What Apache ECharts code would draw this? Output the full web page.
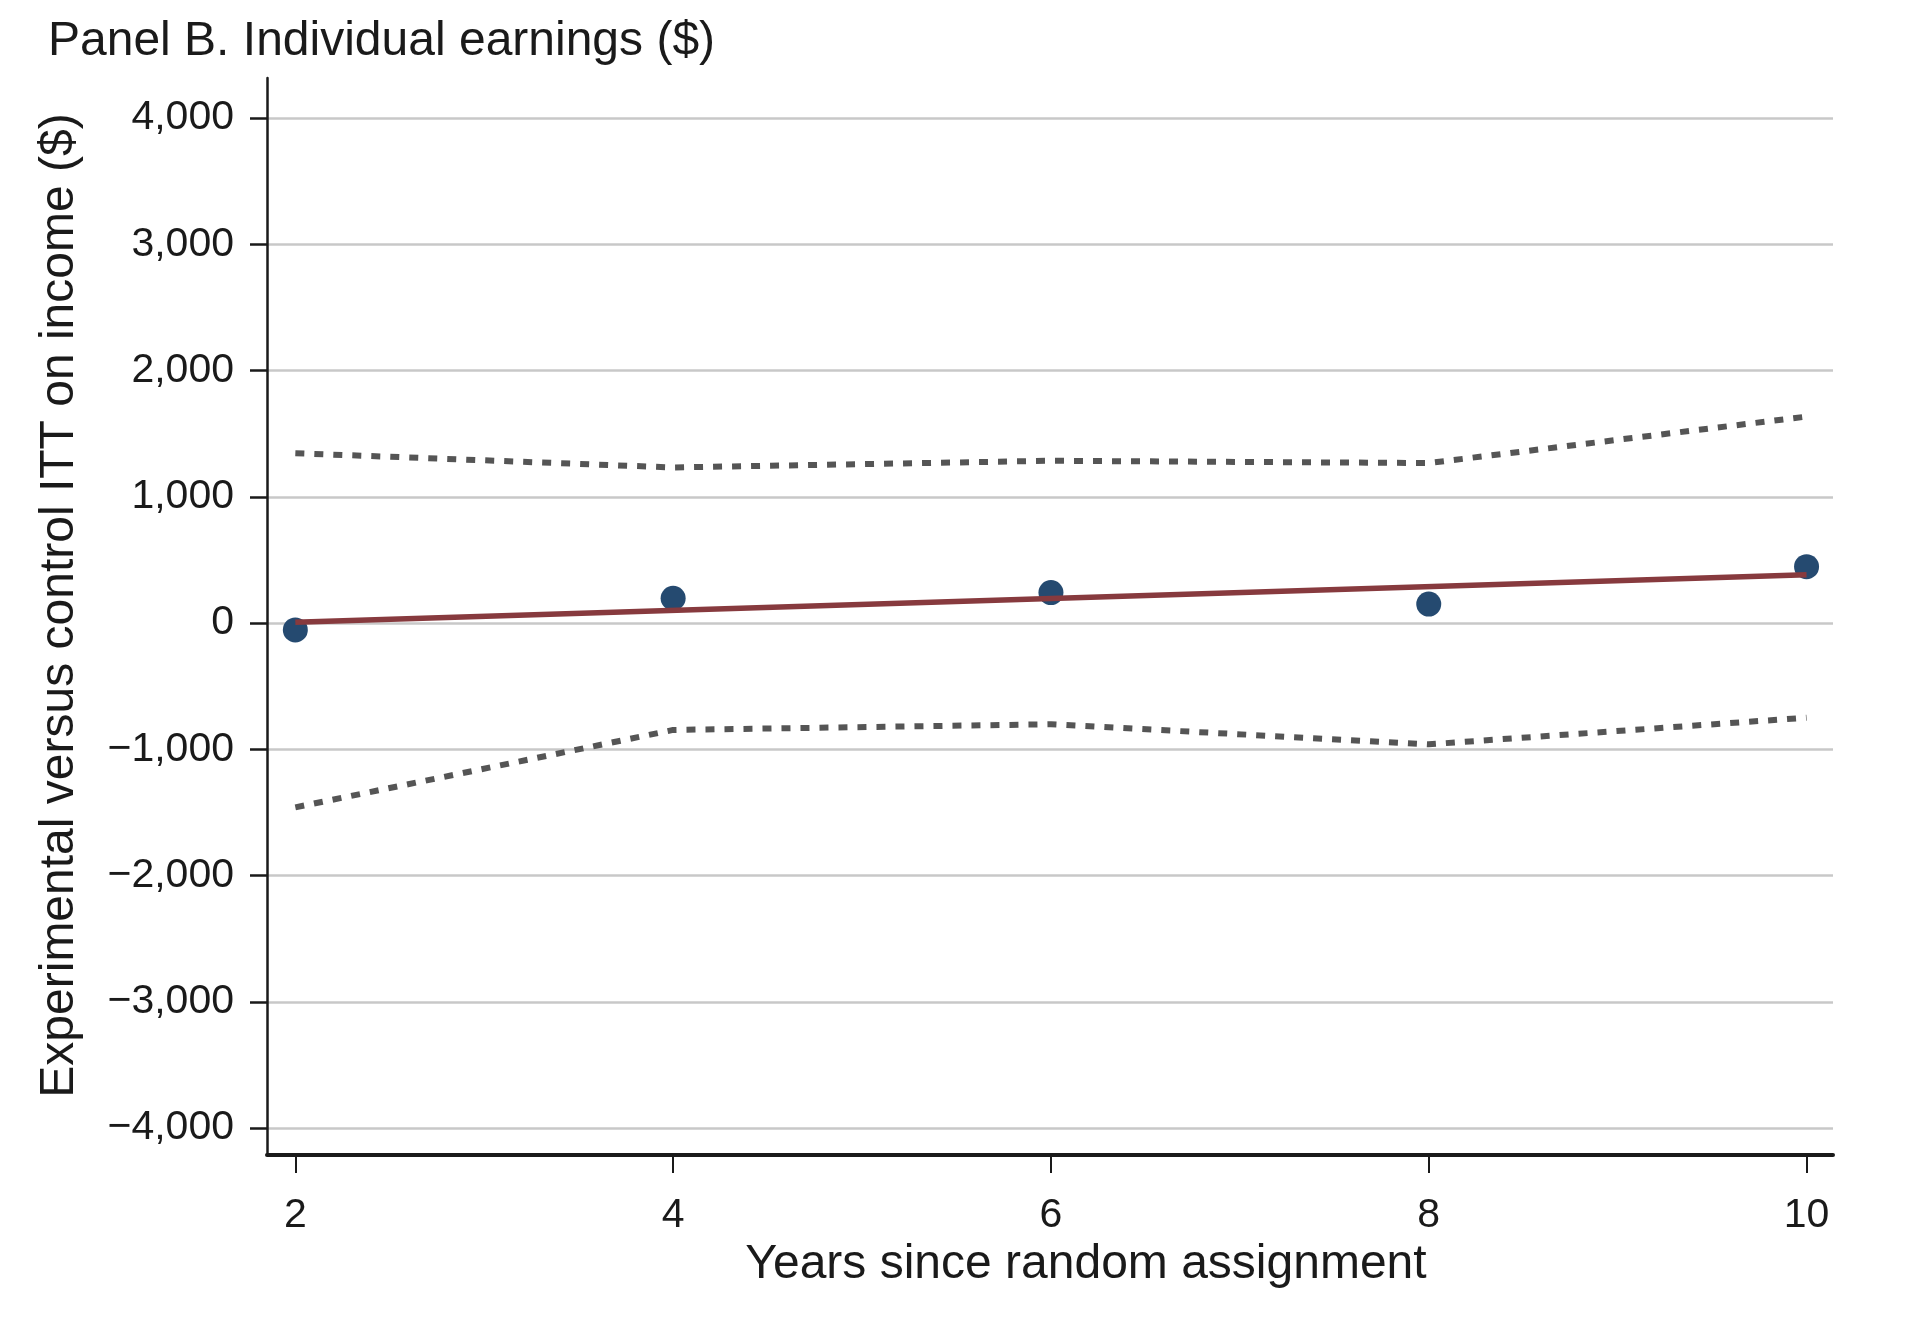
<!DOCTYPE html>
<html><head><meta charset="utf-8">
<script src="https://cdn.jsdelivr.net/npm/echarts@6/dist/echarts.min.js"></script>
<style>html,body{margin:0;padding:0;background:#fff}#chart{width:1918px;height:1330px}</style>
</head><body><div id="chart"></div>
<script>
// ---- data ----
const years = [2, 4, 6, 8, 10];
const ittEstimates = [-55, 196, 241, 150, 446];
const ciUpper = [1345, 1232, 1285, 1267, 1635];
const ciLower = [-1460, -847, -802, -961, -750];
const fitYears = [2, 10];
const fitValues = [5, 383];
const xTickValues = [2, 4, 6, 8, 10];
const yTickValues = [-4000, -3000, -2000, -1000, 0, 1000, 2000, 3000, 4000];
const titleText = 'Panel B. Individual earnings ($)';
const xAxisTitle = 'Years since random assignment';
const yAxisTitle = 'Experimental versus control ITT on income ($)';

const FONT = "'Liberation Sans', Arial, Helvetica, sans-serif";
const TXT = '#1a1a1a';
const pairs = (xs, ys) => xs.map((x, i) => [x, ys[i]]);
const fmtY = v => (v < 0 ? '\u2212' : '') + Math.abs(v).toLocaleString('en-US');

const chart = echarts.init(document.getElementById('chart'), null, {renderer: 'canvas'});
chart.setOption({
  animation: false,
  backgroundColor: '#ffffff',
  title: {
    text: titleText, left: 43, top: 13,
    textStyle: {fontFamily: FONT, fontSize: 48, fontWeight: 'normal', color: TXT}
  },
  grid: [
    {left: 267, width: 1566, top: 118, height: 1010, containLabel: false},
    {left: 267, width: 1566, top: 78, height: 1077, containLabel: false}
  ],
  xAxis: [
    {gridIndex: 0, type: 'value', min: 1.85, max: 10.14, show: false},
    {gridIndex: 1, type: 'value', min: 1.85, max: 10.14,
     axisLine: {show: true, lineStyle: {color: TXT, width: 4}},
     axisTick: {show: true, length: 18, lineStyle: {color: TXT, width: 2}, customValues: xTickValues},
     axisLabel: {show: true, margin: 40, fontFamily: FONT, fontSize: 41, color: TXT, customValues: xTickValues},
     splitLine: {show: false},
     name: xAxisTitle, nameLocation: 'middle', nameGap: 86,
     nameTextStyle: {fontFamily: FONT, fontSize: 48, color: TXT, padding: [0, 0, 0, 72]}
    }
  ],
  yAxis: [
    {gridIndex: 0, type: 'value', min: -4000, max: 4000, interval: 1000,
     axisLine: {show: false},
     axisTick: {show: true, length: 17, lineStyle: {color: TXT, width: 2.5}},
     axisLabel: {show: true, margin: 33, fontFamily: FONT, fontSize: 41, color: TXT, formatter: fmtY},
     splitLine: {show: true, lineStyle: {color: '#c8c8c8', width: 2.5}}
    },
    {gridIndex: 1, type: 'value', min: 0, max: 1,
     axisLine: {show: true, onZero: false, lineStyle: {color: TXT, width: 2.5}},
     axisTick: {show: false}, axisLabel: {show: false}, splitLine: {show: false},
     name: yAxisTitle, nameLocation: 'middle', nameGap: 183,
     nameTextStyle: {fontFamily: FONT, fontSize: 48, color: TXT, padding: [0, 0, 0, 22]}
    }
  ],
  series: [
    {type: 'line', xAxisIndex: 0, yAxisIndex: 0, data: pairs(years, ciUpper),
     symbol: 'none', z: 3, lineStyle: {color: '#555555', width: 6, type: [9, 10], cap: 'butt'}},
    {type: 'line', xAxisIndex: 0, yAxisIndex: 0, data: pairs(years, ciLower),
     symbol: 'none', z: 3, lineStyle: {color: '#555555', width: 6, type: [9, 10], cap: 'butt'}},
    {type: 'scatter', xAxisIndex: 0, yAxisIndex: 0, data: pairs(years, ittEstimates),
     symbol: 'circle', symbolSize: 25, z: 4, itemStyle: {color: '#254a70', opacity: 1}},
    {type: 'line', xAxisIndex: 0, yAxisIndex: 0, data: pairs(fitYears, fitValues),
     symbol: 'none', z: 5, lineStyle: {color: '#873a3e', width: 5.5, cap: 'butt'}}
  ]
});
</script></body></html>
